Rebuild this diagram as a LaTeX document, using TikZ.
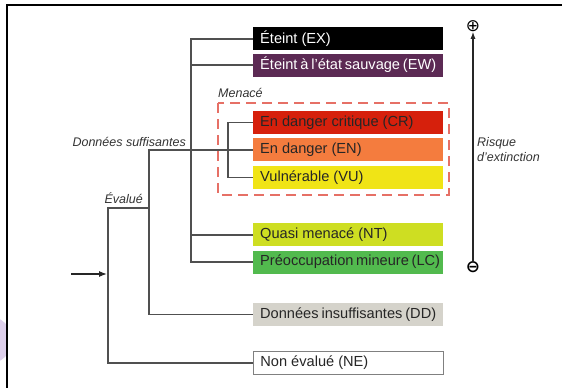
\documentclass[tikz,border=0pt]{standalone}
\usepackage{fontspec}
\setmainfont{Liberation Sans}
\newfontfamily\signfont{DejaVu Sans}
\usetikzlibrary{positioning,arrows.meta}
\definecolor{exfill}{RGB}{0,0,0}
\definecolor{ewfill}{RGB}{92,42,84}
\definecolor{crfill}{RGB}{214,32,12}
\definecolor{enfill}{RGB}{244,124,62}
\definecolor{vufill}{RGB}{240,228,22}
\definecolor{ntfill}{RGB}{206,222,34}
\definecolor{lcfill}{RGB}{82,186,78}
\definecolor{ddfill}{RGB}{213,211,203}
\definecolor{treeline}{RGB}{80,80,80}
\definecolor{menaceline}{RGB}{230,112,102}
\definecolor{blobfill}{RGB}{222,208,236}

\begin{document}
\begin{tikzpicture}[x=1pt, y=-1pt,
  node distance=4pt,
  cat/.style={anchor=north west, minimum width=190pt, minimum height=23pt, inner xsep=7pt, inner ysep=0pt, font=\fontsize{14.6}{16}\selectfont, text=black!85,
    execute at begin node={\hbox to 176pt\bgroup}, execute at end node={\hfil\egroup}},
  catd/.style={cat, fill=#1},
  catl/.style={cat, fill=#1, text=white},
  tree/.style={treeline, line width=1.6pt},
  lab/.style={font=\fontsize{12.5}{15}\selectfont\itshape, text=black!80, inner sep=0pt},
  menbox/.style={menaceline, line width=1.8pt, dash pattern=on 10pt off 6pt},
  axis/.style={-{Latex[length=7pt,width=5pt]}, black!85, line width=1.2pt},
  sign/.style={inner sep=0pt, font=\signfont\fontsize{17}{17}\selectfont}]

\useasboundingbox (0,0) rectangle (562,388);

% ---- frame ----
\begin{scope}
  \clip (0,300) rectangle (7,388);
  \fill[blobfill] (-12,340) circle (24);
\end{scope}
\draw[black, line width=2.4pt] (562,5) -- (7,5) -- (7,388);

% ---- categories ----
\node[catl=exfill] (EX) at (253,27) {Éteint (EX)};
\node[catl=ewfill, below=3pt of EX.south west, anchor=north west] (EW) {Éteint à l'état sauvage (EW)};
\node[catd=crfill, below=34pt of EW.south west, anchor=north west] (CR) {En danger critique (CR)};
\node[catd=enfill, below=of CR.south west, anchor=north west] (EN) {En danger (EN)};
\node[catd=vufill, below=of EN.south west, anchor=north west] (VU) {Vulnérable (VU)};
\node[catd=ntfill, below=34pt of VU.south west, anchor=north west] (NT) {Quasi menacé (NT)};
\node[catd=lcfill, below=of NT.south west, anchor=north west] (LC) {Préoccupation mineure (LC)};
\node[catd=ddfill, below=29pt of LC.south west, anchor=north west] (DD) {Données insuffisantes (DD)};
\node[cat, draw=black!50, line width=0.8pt, fill=white, below=25pt of DD.south west, anchor=north west] (NE) {Non évalué (NE)};

% ---- menace group ----
\draw[menbox] (218,103) rectangle (449,195);
\node[lab, anchor=west] (menace) at (218,93) {Menacé};

% ---- tree ----
\draw[tree] (EX.west) -- ++(-62,0) |- (LC.west);
\draw[tree] (EW.west) -- ++(-62,0);
\draw[tree] (NT.west) -- ++(-62,0);
\draw[tree] (CR.west) -- ++(-25,0) |- (VU.west);
\draw[tree] (EN.west) -- ++(-104,0) |- (DD.west);
\coordinate (evtop) at (149,208);
\draw[tree] (evtop) -- ++(-41,0) |- (NE.west);
\node[lab, anchor=east] (suff) at (186,142) {Données suffisantes};
\node[lab, anchor=east] (evalue) at (143,198) {Évalué};

% entry arrow
\coordinate (instart) at (71,274);
\coordinate (inend) at (107,274);
\draw[-{Latex[length=8pt,width=6pt]}, black!85, line width=1.2pt] (instart) -- (inend);

% ---- risk axis ----
\node[sign] (plus) at (473,26) {⊕};
\node[sign] (minus) at (473,267) {\bfseries ⊖};
\draw[axis] (minus) -- (plus);
\node[lab, anchor=west, align=left] (risque) at (477,150) {Risque\\d'extinction};
\end{tikzpicture}
\end{document}
